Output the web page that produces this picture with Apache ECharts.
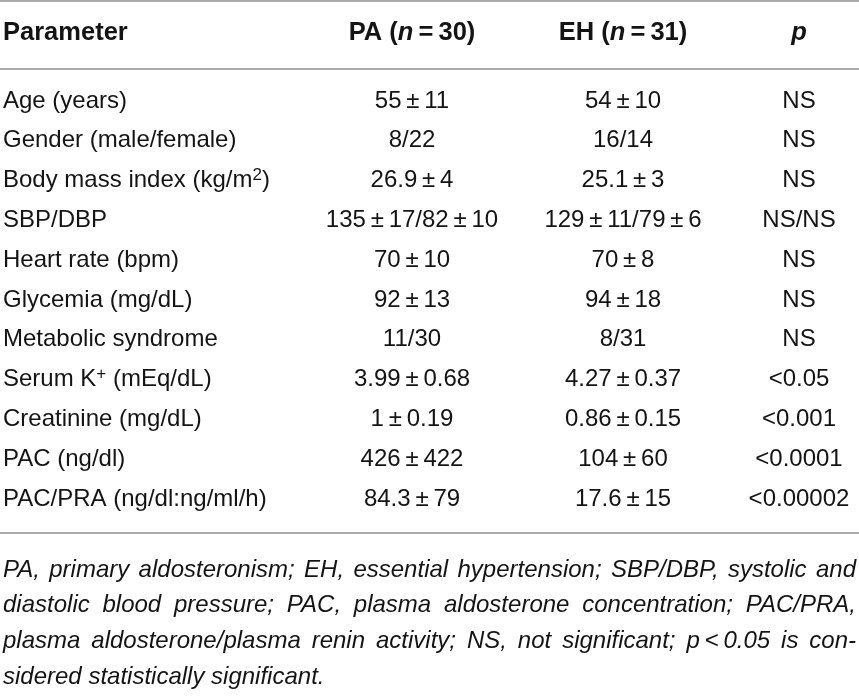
<!DOCTYPE html>
<html>
<head>
<meta charset="utf-8">
<title>PA vs EH</title>
<script src="https://cdn.jsdelivr.net/npm/echarts@6/dist/echarts.min.js"></script>
<style>
  html, body { margin: 0; padding: 0; background: #ffffff; }
  #main { width: 859px; height: 696px; }
</style>
</head>
<body>
<div id="main"></div>
<script>
// table content
var headers = ['Parameter', 'PA ({bi|n}\u2009=\u200930)', 'EH ({bi|n}\u2009=\u200931)', '{bi|p}'];
var parameters = [
    'Age (years)',
    'Gender (male/female)',
    'Body mass index (kg/m{sup|2})',
    'SBP/DBP',
    'Heart rate (bpm)',
    'Glycemia (mg/dL)',
    'Metabolic syndrome',
    'Serum K{sup|+} (mEq/dL)',
    'Creatinine (mg/dL)',
    'PAC (ng/dl)',
    'PAC/PRA (ng/dl:ng/ml/h)'
];
var paValues = ['55 ± 11', '8/22', '26.9 ± 4', '135 ± 17/82 ± 10', '70 ± 10', '92 ± 13',
    '11/30', '3.99 ± 0.68', '1 ± 0.19', '426 ± 422', '84.3 ± 79'];
var ehValues = ['54 ± 10', '16/14', '25.1 ± 3', '129 ± 11/79 ± 6', '70 ± 8', '94 ± 18',
    '8/31', '4.27 ± 0.37', '0.86 ± 0.15', '104 ± 60', '17.6 ± 15'];
var pValues = ['NS', 'NS', 'NS', 'NS/NS', 'NS', 'NS', 'NS', '<0.05', '<0.001', '<0.0001', '<0.00002'];
var captionLines = [
    'PA, primary aldosteronism; EH, essential hypertension; SBP/DBP, systolic and',
    'diastolic blood pressure; PAC, plasma aldosterone concentration; PAC/PRA,',
    'plasma aldosterone/plasma renin activity; NS, not significant; p\u2009<\u20090.05 is con-',
    'sidered statistically significant.'
];

var FONT = '"Liberation Sans", Arial, Helvetica, sans-serif';
var INK = '#141414';
var RULE = '#ababab';
var W = 859;
var colX = [3, 412, 623, 799];
var headerY = 33;
var rowY0 = 101, rowStep = 39.8;
var capY0 = 570, capStep = 35.7;
var capLeft = 3, capRight = 856;

var rich = {
    b: { fontFamily: FONT, fontSize: 25.5, fontWeight: 'bold', fill: INK, lineHeight: 28 },
    bi: { fontFamily: FONT, fontSize: 25.5, fontWeight: 'bold', fontStyle: 'italic', fill: INK, lineHeight: 28 },
    sup: { fontFamily: FONT, fontSize: 17, fill: INK, lineHeight: 16, verticalAlign: 'top' }
};

function pm(s) {
    return s.replace(/ ± /g, '\u2009±\u2009');
}

function cell(text, x, y, align, bold) {
    return {
        type: 'text',
        x: x,
        y: y,
        style: {
            text: text,
            align: align,
            verticalAlign: 'middle',
            fontFamily: FONT,
            fontSize: bold ? 25.5 : 24,
            fontWeight: bold ? 'bold' : 'normal',
            lineHeight: 28,
            fill: INK,
            rich: rich
        }
    };
}

function rule(y) {
    return {
        type: 'line',
        shape: { x1: 0, y1: y, x2: W, y2: y },
        style: { stroke: RULE, lineWidth: 2 }
    };
}

var els = [rule(1), rule(69), rule(533)];

// header, bold text; the rich tokens are bold too
els.push(cell(headers[0], colX[0], headerY, 'left', true));
for (var h = 1; h < headers.length; h++) {
    var t = headers[h].replace(/^([^{]+)/, '{b|$1}').replace(/\}([^{}]+)$/, '}{b|$1}');
    els.push(cell(t, colX[h], headerY, 'center', true));
}

for (var i = 0; i < parameters.length; i++) {
    var y = rowY0 + i * rowStep;
    els.push(cell(parameters[i], colX[0], y, 'left', false));
    els.push(cell(pm(paValues[i]), colX[1], y, 'center', false));
    els.push(cell(pm(ehValues[i]), colX[2], y, 'center', false));
    els.push(cell(pValues[i], colX[3], y, 'center', false));
}

// caption: justified italic lines, words spread to the full width
var ctx = document.createElement('canvas').getContext('2d');
var capFont = 'italic 24px ' + FONT;
ctx.font = capFont;
for (var l = 0; l < captionLines.length; l++) {
    var words = captionLines[l].split(' ');
    var widths = words.map(function (w) { return ctx.measureText(w).width; });
    var total = widths.reduce(function (a, b) { return a + b; }, 0);
    var last = l === captionLines.length - 1;
    var gap = last ? ctx.measureText(' ').width : (capRight - capLeft - total) / (words.length - 1);
    var x = capLeft;
    for (var k = 0; k < words.length; k++) {
        els.push({
            type: 'text',
            x: x,
            y: capY0 + l * capStep,
            style: {
                text: words[k],
                align: 'left',
                verticalAlign: 'middle',
                font: capFont,
                fill: INK
            }
        });
        x += widths[k] + gap;
    }
}

var myChart = echarts.init(document.getElementById('main'));
myChart.setOption({
    backgroundColor: '#ffffff',
    animation: false,
    graphic: { elements: els }
});
</script>
</body>
</html>
